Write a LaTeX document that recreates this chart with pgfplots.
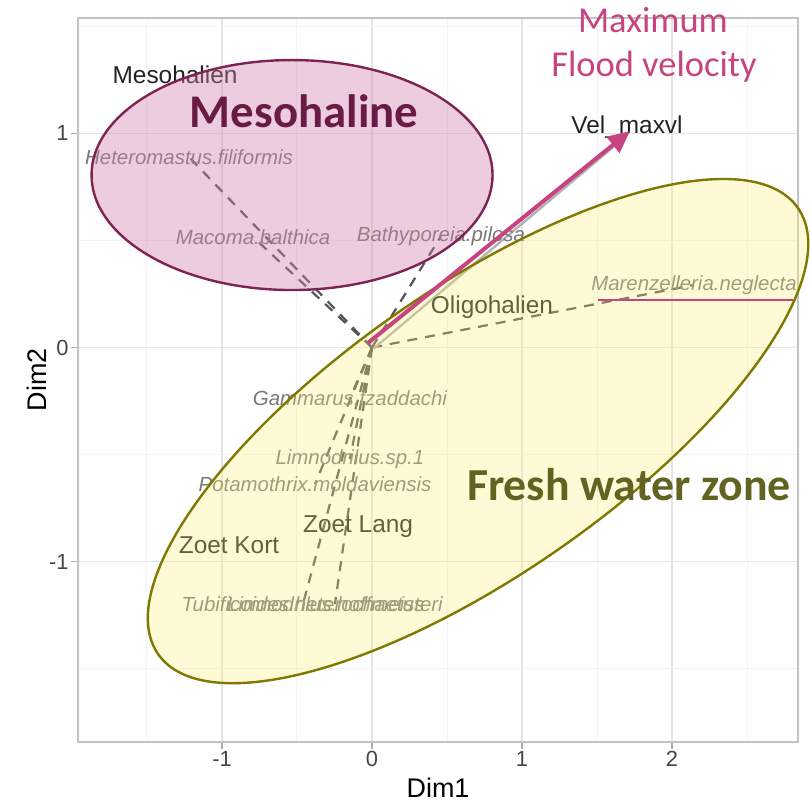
\documentclass[border=0pt]{standalone}
\usepackage{pgfplots}
\pgfplotsset{compat=1.18}
\usepackage{fontspec}
\setmainfont{Liberation Sans}
\newfontfamily\calibri{Carlito}
\usetikzlibrary{arrows.meta,calc}
\definecolor{gridmaj}{RGB}{228,228,228}
\definecolor{gridmin}{RGB}{242,242,242}
\definecolor{borderc}{RGB}{195,195,195}
\definecolor{tickc}{RGB}{170,170,170}
\definecolor{tickl}{RGB}{70,70,70}
\definecolor{catc}{RGB}{35,35,35}
\definecolor{specc}{RGB}{120,120,120}
\definecolor{dashc}{RGB}{85,85,85}
\definecolor{pinkc}{RGB}{200,68,128}
\definecolor{pinkfill}{RGB}{208,128,172}
\definecolor{pinkborder}{RGB}{126,36,84}
\definecolor{mesoc}{RGB}{106,27,69}
\definecolor{yelfill}{RGB}{255,238,120}
\definecolor{olivec}{RGB}{128,120,0}
\definecolor{freshc}{RGB}{99,99,33}
\begin{document}
\begin{tikzpicture}
\begin{axis}[name=ax, scale only axis, width=360bp, height=362bp,
  xmin=-1.96, xmax=2.84, ymin=-1.841, ymax=1.538,
  xtick={-1,0,1,2}, xticklabels={-1,0,1,2},
  ytick={-1,0,1}, yticklabels={-1,0,1},
  minor xtick={-1.5,-0.5,0.5,1.5,2.5}, minor ytick={-1.5,-0.5,0.5,1.5},
  grid=both,
  major grid style={color=gridmaj, line width=0.7bp},
  minor grid style={color=gridmin, line width=0.5bp},
  axis line style={color=borderc, line width=0.8bp},
  tick pos=left, tick align=outside, major tick length=3.5bp, minor tick length=0pt,
  tick style={color=tickc, line width=0.6bp},
  xticklabel style={font=\fontsize{11}{11}\selectfont, text=tickl, anchor=north, inner sep=0pt, yshift=-1bp},
  yticklabel style={font=\fontsize{11}{11}\selectfont, text=tickl, anchor=east, inner sep=0pt, xshift=-1bp},
  clip=false,
]
% dashed lines to species
\addplot[dashc, line width=1.1bp, dash pattern=on 5bp off 4bp] coordinates {(0,0) (-1.22,0.889)};
\addplot[dashc, line width=1.1bp, dash pattern=on 5bp off 4bp] coordinates {(0,0) (-0.793,0.516)};
\addplot[dashc, line width=1.1bp, dash pattern=on 5bp off 4bp] coordinates {(0,0) (0.46,0.52)};
\addplot[dashc, line width=1.1bp, dash pattern=on 5bp off 4bp] coordinates {(0,0) (2.147,0.292)};
\addplot[dashc, line width=1.1bp, dash pattern=on 5bp off 4bp] coordinates {(0,0) (-0.147,-0.236)};
\addplot[dashc, line width=1.1bp, dash pattern=on 5bp off 4bp] coordinates {(0,0) (-0.147,-0.52)};
\addplot[dashc, line width=1.1bp, dash pattern=on 5bp off 4bp] coordinates {(0,0) (-0.38,-0.637)};
\addplot[dashc, line width=1.1bp, dash pattern=on 5bp off 4bp] coordinates {(0,0) (-0.46,-1.197)};
\addplot[dashc, line width=1.1bp, dash pattern=on 5bp off 4bp] coordinates {(0,0) (-0.247,-1.197)};
% original grey arrow
\addplot[gray!60, line width=1.2bp, -{Triangle[length=8bp,width=7bp]}] coordinates {(0.01,-0.005) (1.70,0.99)};
% species labels
\begin{scope}[every node/.style={font=\fontsize{10.25}{10.25}\selectfont\itshape, text=specc, inner sep=0pt}]
\node at (axis cs:-1.22,0.889) {Heteromastus.filiformis};
\node at (axis cs:-0.793,0.516) {Macoma.balthica};
\node at (axis cs:0.46,0.52) {Bathyporeia.pilosa};
\node at (axis cs:2.147,0.292) {Marenzelleria.neglecta};
\node at (axis cs:-0.147,-0.236) {Gammarus.tzaddachi};
\node at (axis cs:-0.147,-0.52) {Limnodrilus.sp.1};
\node at (axis cs:-0.38,-0.637) {Potamothrix.moldaviensis};
\node at (axis cs:-0.46,-1.197) {Tubificoides.heterochaetus};
\node at (axis cs:-0.247,-1.197) {Limnodrilus.hoffmeisteri};
\end{scope}
% category labels
\begin{scope}[every node/.style={font=\fontsize{12.25}{12.25}\selectfont, text=catc, inner sep=0pt}]
\node at (axis cs:-1.313,1.272) {Mesohalien};
\node at (axis cs:1.70,1.029) {Vel\_maxvl};
\node at (axis cs:0.80,0.189) {Oligohalien};
\node at (axis cs:-0.953,-0.922) {Zoet Kort};
\node at (axis cs:-0.093,-0.838) {Zoet Lang};
\end{scope}
% overlays
\draw[draw=pinkborder, line width=1.2bp, fill=pinkfill, fill opacity=0.4] (axis cs:-0.533,0.805) ellipse [x radius=100.25bp, y radius=57.5bp];
\draw[draw=olivec, line width=1.2bp, fill=yelfill, fill opacity=0.3, rotate around={34.9:(axis cs:0.707,-0.39)}] (axis cs:0.707,-0.39) ellipse [x radius=195bp, y radius=71.5bp];
\addplot[pinkc, line width=2bp, -{Triangle[length=11bp,width=10bp]}] coordinates {(-0.027,0.021) (1.72,1.01)};
\addplot[pinkc, line width=1bp] coordinates {(1.507,0.222) (2.807,0.222)};
\node[font=\calibri\bfseries\fontsize{23.5}{23.5}\selectfont, text=mesoc, anchor=base, inner sep=0pt] at (axis cs:-0.453,1.029) {Mesohaline};
\node[font=\calibri\bfseries\fontsize{23}{23}\selectfont, text=freshc, anchor=base, inner sep=0pt] at (axis cs:1.713,-0.712) {Fresh water zone};
\node[font=\calibri\fontsize{18.3}{18.3}\selectfont, text=pinkc, anchor=base, inner sep=0pt] at (axis cs:1.873,1.472) {Maximum};
\node[font=\calibri\fontsize{18.3}{18.3}\selectfont, text=pinkc, anchor=base, inner sep=0pt] at (axis cs:1.88,1.267) {Flood velocity};
\end{axis}
\node[font=\fontsize{13.5}{13.5}\selectfont, anchor=base, inner sep=0pt] at ($(ax.south)+(0,-27.5bp)$) {Dim1};
\node[font=\fontsize{13.5}{13.5}\selectfont, anchor=base, inner sep=0pt, rotate=90] at ($(ax.west)+(-16bp,0)$) {Dim2};
\pgfresetboundingbox
\path ($(ax.south west)+(-39bp,-29.5bp)$) rectangle ($(ax.north east)+(6bp,9bp)$);
\end{tikzpicture}
\end{document}
